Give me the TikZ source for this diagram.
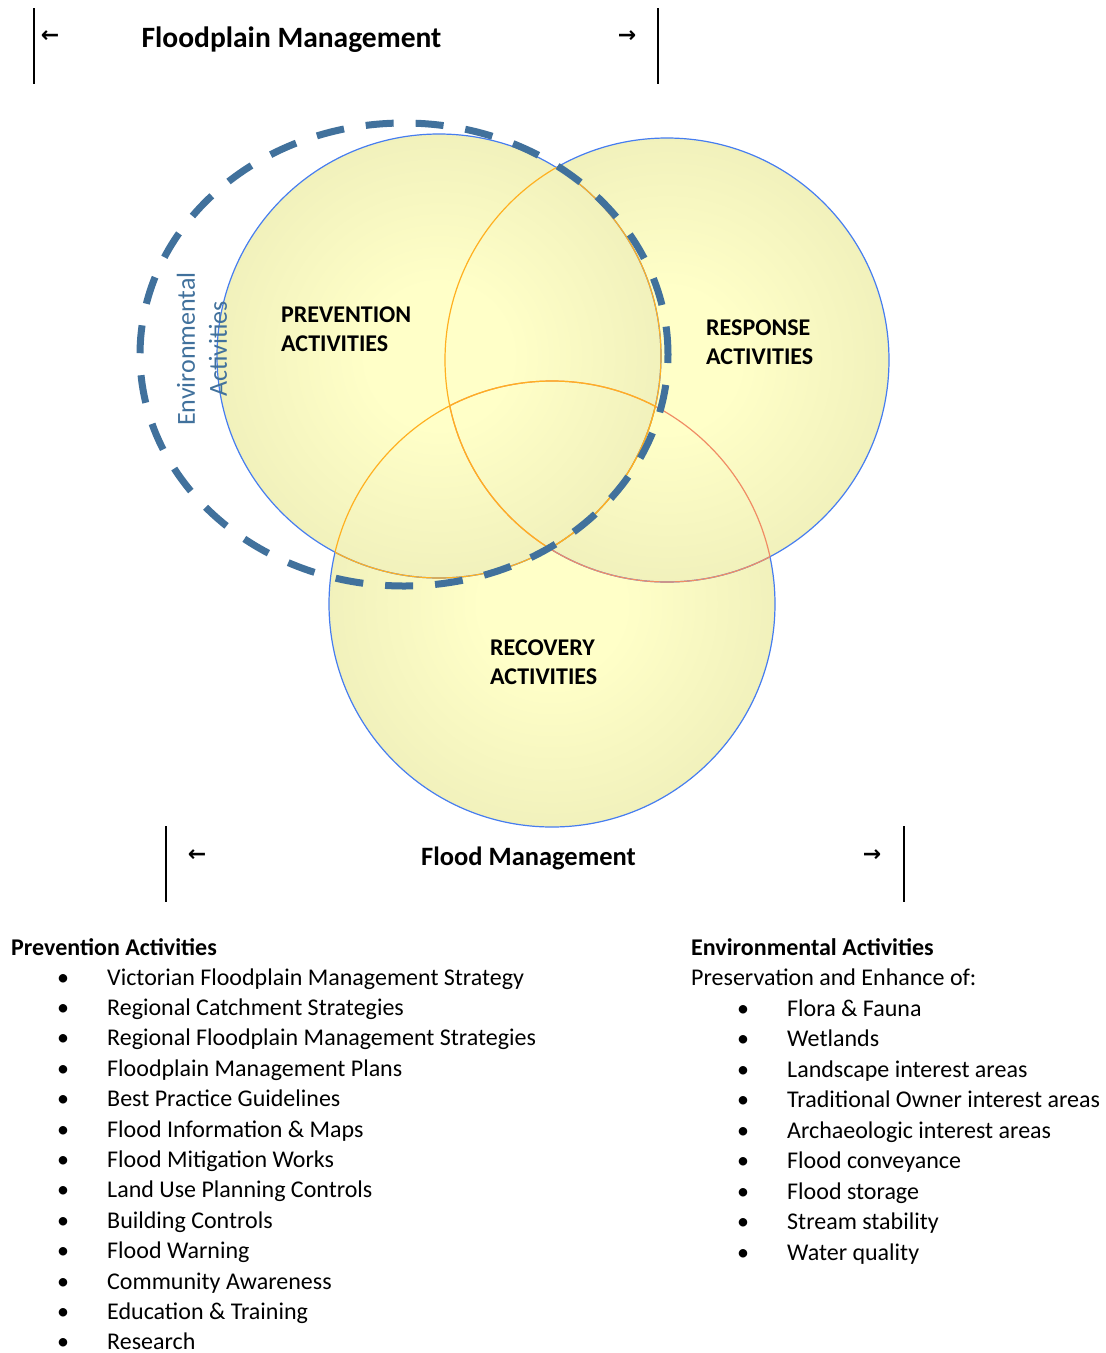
\documentclass[tikz,border=0pt]{standalone}
\usepackage{fontspec}
\setmainfont{Carlito}
\newfontfamily\symfont{DejaVu Sans}
\usetikzlibrary{shapes.geometric}
\definecolor{vennin}{RGB}{255,255,200}
\definecolor{vennout}{RGB}{221,221,170}
\definecolor{vennblue}{RGB}{70,125,240}
\definecolor{vennorange}{RGB}{255,176,32}
\definecolor{vennsalmon}{RGB}{240,140,100}
\definecolor{envblue}{RGB}{65,113,156}
\pgfdeclareradialshading{vennshade}{\pgfpoint{0bp}{0bp}}{color(0bp)=(vennin); color(8bp)=(vennin); color(50bp)=(vennout); color(100bp)=(vennout)}
\tikzset{
  venn/.style={circle, inner sep=0pt, outer sep=0pt, shading=vennshade, draw=vennblue, line width=1.2pt},
  arcline/.style={line width=1.2pt},
  bar/.style={line width=1.6pt, black},
  arrowsym/.style={font=\symfont\bfseries\fontsize{22}{22}\selectfont, inner sep=0pt},
  title/.style={font=\bfseries\fontsize{29.5}{32}\selectfont, inner sep=0pt},
  clabel/.style={font=\bfseries\fontsize{24}{29}\selectfont, inner sep=0pt, anchor=base west},
  listtext/.style={font=\fontsize{24}{29}\selectfont, inner sep=0pt, anchor=base west},
  listhead/.style={font=\bfseries\fontsize{24}{29}\selectfont, inner sep=0pt, anchor=base west},
  bullet/.style={font=\fontsize{24}{29}\selectfont, inner sep=0pt, anchor=base},
}
\begin{document}
\begin{tikzpicture}[x=1pt,y=-1pt]
\useasboundingbox (0,0) rectangle (1106,1353);
% circles
\coordinate (cP) at (439,356);
\coordinate (cR) at (667,360);
\coordinate (cC) at (552,604);
\node[venn, minimum size=446pt] (recovery) at (cC) {};
\node[venn, minimum size=444pt] (response) at (cR) {};
\node[venn, minimum size=444pt] (prevention) at (cP) {};
% intersection outlines
\begin{scope}
  \clip (cR) circle[radius=222pt];
  \draw[arcline, vennsalmon] (cC) circle[radius=223pt];
  \draw[arcline, vennorange] (cP) circle[radius=222pt];
\end{scope}
\begin{scope}
  \clip (cC) circle[radius=223pt];
  \draw[arcline, vennsalmon] (cR) circle[radius=222pt];
  \draw[arcline, vennorange] (cP) circle[radius=222pt];
\end{scope}
\begin{scope}
  \clip (cP) circle[radius=222pt];
  \draw[arcline, vennorange] (cR) circle[radius=222pt];
  \draw[arcline, vennorange] (cC) circle[radius=223pt];
\end{scope}
% environmental dashed ellipse
\node[ellipse, draw=envblue, line width=7pt, dash pattern=on 28pt off 22pt, minimum width=528pt, minimum height=463pt, inner sep=0pt, outer sep=0pt] (env) at (404,354.5) {};
\node[rotate=90, align=center, text=envblue, font=\fontsize{26}{32}\selectfont, inner sep=0pt] (envlabel) at (202,349) {Environmental\\Activities};
% circle labels
\node[clabel] (prevA) at (281,322) {PREVENTION};
\node[clabel] (prevB) at (281,351) {ACTIVITIES};
\node[clabel] (respA) at (706,335) {RESPONSE};
\node[clabel] (respB) at (706,364) {ACTIVITIES};
\node[clabel] (recoA) at (490,655) {RECOVERY};
\node[clabel] (recoB) at (490,684) {ACTIVITIES};
% top scale
\coordinate (tl1) at (34,8); \coordinate (tl2) at (34,84);
\coordinate (tr1) at (658,8); \coordinate (tr2) at (658,84);
\draw[bar] (tl1) -- (tl2);
\draw[bar] (tr1) -- (tr2);
\node[arrowsym] (tla) at (50,37) {←};
\node[arrowsym] (tra) at (627,37) {→};
\node[title] (ftitle) at (291.5,39.5) {Floodplain Management};
% bottom scale
\coordinate (bl1) at (166,826); \coordinate (bl2) at (166,902);
\coordinate (br1) at (904,826); \coordinate (br2) at (904,902);
\draw[bar] (bl1) -- (bl2);
\draw[bar] (br1) -- (br2);
\node[arrowsym] (bla) at (197,856) {←};
\node[arrowsym] (bra) at (872,856) {→};
\node[title, font=\bfseries\fontsize{26.5}{30}\selectfont] (fmtitle) at (528.5,858) {Flood Management};
% lists
\node[listhead] (phead) at (11,955) {Prevention Activities};
\foreach \t [count=\i from 0] in {Victorian Floodplain Management Strategy, Regional Catchment Strategies, Regional Floodplain Management Strategies, Floodplain Management Plans, Best Practice Guidelines, Flood Information \& Maps, Flood Mitigation Works, Land Use Planning Controls, Building Controls, Flood Warning, Community Awareness, Education \& Training, Research}{
  \node[bullet] (pb\i) at (63,{985+30.4*\i}) {•};
  \node[listtext] (pt\i) at (107,{985+30.4*\i}) {\t};
}
\node[listhead] (ehead) at (691,955) {Environmental Activities};
\node[listtext] (esub) at (691,985) {Preservation and Enhance of:};
\foreach \t [count=\i from 0] in {Flora \& Fauna, Wetlands, Landscape interest areas, Traditional Owner interest areas, Archaeologic interest areas, Flood conveyance, Flood storage, Stream stability, Water quality}{
  \node[bullet] (eb\i) at (743,{1016+30.5*\i}) {•};
  \node[listtext] (et\i) at (787,{1016+30.5*\i}) {\t};
}
\end{tikzpicture}
\end{document}
